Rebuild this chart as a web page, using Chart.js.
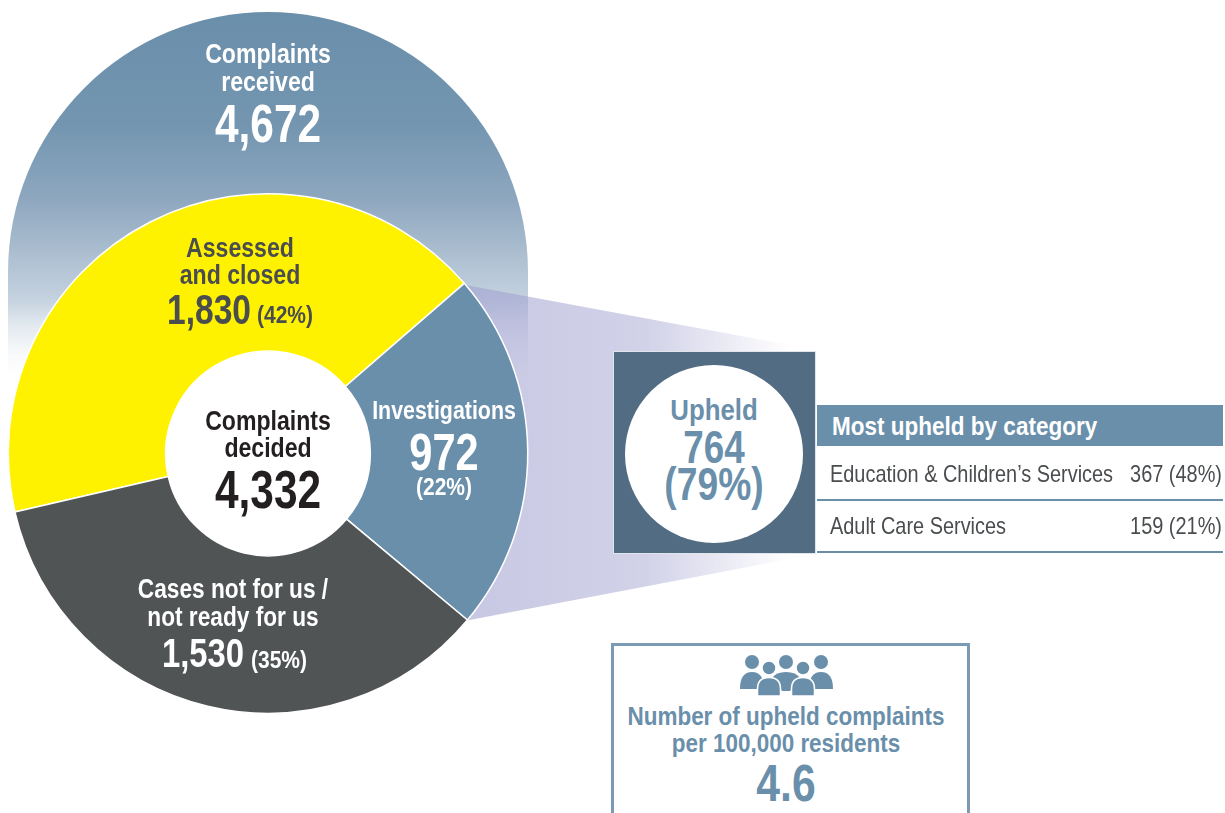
<!DOCTYPE html>
<html><head><meta charset="utf-8">
<script src="https://cdn.jsdelivr.net/npm/chart.js@4"></script>
<style>
html,body{margin:0;padding:0;background:#fff;width:1225px;height:813px;overflow:hidden}
#wrap{position:relative;width:1225px;height:813px;overflow:hidden}
canvas{position:absolute;left:0;top:0}
.t{position:absolute;white-space:nowrap;line-height:1;font-family:"Liberation Sans",Arial,sans-serif;font-weight:700}
.box{position:absolute;box-sizing:border-box}
</style></head><body>
<div id="wrap"><canvas id="c" width="1225" height="813"></canvas></div>
<script>
const categories = ["Assessed and closed", "Investigations", "Cases not for us / not ready for us"];
const decidedValues = [1830, 972, 1530];
const decidedShares = ["42%", "22%", "35%"];
const sliceColors = ["#fff200", "#6a8fab", "#505455"];
const received = 4672;
const decided = 4332;
const upheld = 764;
const upheldShare = "79%";
const upheldCategories = ["Education & Children\u2019s Services", "Adult Care Services"];
const upheldCategoryValues = [367, 159];
const upheldCategoryShares = ["48%", "21%"];
const perResidents = "4.6";
const fmt = n => n.toLocaleString("en-GB");

const backdrop = {
  id: "backdrop",
  beforeDatasetsDraw(chart) {
    const ctx = chart.ctx;
    const arc = chart.getDatasetMeta(0).data[0];
    const cx = arc.x, cy = arc.y, r = 260;
    ctx.save();
    // dome behind the doughnut
    const topY = 12, fadeY = 386;
    const g = ctx.createLinearGradient(0, topY, 0, fadeY);
    g.addColorStop(0, "#6a8fab");
    g.addColorStop(0.3, "#7395b0");
    g.addColorStop(0.5, "#8ea7bf");
    g.addColorStop(0.77, "#c5d2df");
    g.addColorStop(1, "rgba(255,255,255,0)");
    ctx.fillStyle = g;
    ctx.beginPath();
    ctx.moveTo(cx - r, fadeY);
    ctx.lineTo(cx - r, topY + r);
    ctx.arc(cx, topY + r, r, Math.PI, 0);
    ctx.lineTo(cx + r, fadeY);
    ctx.closePath();
    ctx.fill();
    // wedge towards the upheld box
    const w = ctx.createLinearGradient(470, 0, 790, 0);
    w.addColorStop(0, "rgba(160,160,208,0.58)");
    w.addColorStop(0.55, "rgba(160,160,208,0.48)");
    w.addColorStop(1, "rgba(160,160,208,0)");
    ctx.fillStyle = w;
    ctx.beginPath();
    ctx.moveTo(cx + 195, cy - 169);
    ctx.lineTo(795, 346);
    ctx.lineTo(795, 558);
    ctx.lineTo(cx + 199, cy + 167);
    ctx.closePath();
    ctx.fill();
    // the hole of the doughnut stays white
    ctx.fillStyle = "#fff";
    ctx.beginPath();
    ctx.arc(cx, cy, arc.innerRadius, 0, Math.PI * 2);
    ctx.fill();
    ctx.restore();
  }
};

new Chart(document.getElementById("c"), {
  type: "doughnut",
  data: { labels: categories, datasets: [{ data: decidedValues, backgroundColor: sliceColors, borderColor: "#ffffff", borderWidth: 1.5, borderAlign: "center" }] },
  options: {
    responsive: false, animation: false, rotation: -103, cutout: "39.4%",
    layout: { padding: { left: 7, right: 696, top: 193, bottom: 99 } },
    plugins: { legend: { display: false }, tooltip: { enabled: false } }
  },
  plugins: [backdrop]
});

const wrap = document.getElementById("wrap");
function box(x, y, w, h, css) {
  const d = document.createElement("div");
  d.className = "box";
  d.style.cssText = `left:${x}px;top:${y}px;width:${w}px;height:${h}px;${css}`;
  wrap.appendChild(d); return d;
}
function put(text, x, base, size, color, sx = 0.855, anchor = "c", weight = 700) {
  const d = document.createElement("div");
  d.className = "t"; d.textContent = text;
  const shift = anchor === "c" ? "-50%" : anchor === "r" ? "-100%" : "0";
  const origin = anchor === "c" ? "50%" : anchor === "r" ? "100%" : "0";
  d.style.cssText = `left:${x}px;top:${base - size * 0.8465}px;font-size:${size}px;color:${color};font-weight:${weight};transform-origin:${origin} 50%;transform:translateX(${shift}) scaleX(${sx})`;
  wrap.appendChild(d); return d;
}
const WHITE = "#ffffff", DARK = "#4a4d4f", INK = "#231f20", BLUE = "#6a8fab";
const NUM = 0.8;

put("Complaints", 268, 64, 27, WHITE);
put("received", 268, 92, 27, WHITE);
put(fmt(received), 268, 142, 53, WHITE, NUM);

put("Assessed", 240, 258, 27, DARK);
put("and closed", 240, 285, 27, DARK);
put(fmt(decidedValues[0]), 208.5, 325, 42, DARK, NUM);
put(`(${decidedShares[0]})`, 285, 323, 24, DARK, 0.875);

put("Complaints", 268, 431, 27, INK);
put("decided", 268, 458, 27, INK);
put(fmt(decided), 268, 508, 53, INK, NUM);

put(categories[1], 444, 419, 25, WHITE);
put(fmt(decidedValues[1]), 444, 470, 52, WHITE, NUM);
put(`(${decidedShares[1]})`, 444, 495, 24, WHITE, 0.875);

put("Cases not for us /", 233, 599, 27, WHITE, 0.84);
put("not ready for us", 233, 627, 27, WHITE, 0.84);
put(fmt(decidedValues[2]), 202.5, 668, 41, WHITE, NUM);
put(`(${decidedShares[2]})`, 279, 668, 24, WHITE, 0.875);

box(613, 351, 203, 203, "background:#526c83;border:1px solid #dfe5ea");
box(625, 365, 178, 178, "background:#fff;border-radius:50%");
put("Upheld", 714, 420, 30, BLUE, 0.86);
put(fmt(upheld), 714, 463, 46, BLUE, 0.8);
put(`(${upheldShare})`, 714, 500, 46, BLUE, 0.81);

box(817, 405, 406, 41, `background:${BLUE}`);
put("Most upheld by category", 832, 435, 26, WHITE, 0.866, "l");
put(upheldCategories[0], 830, 482, 24, DARK, 0.83, "l", 400);
put(`${upheldCategoryValues[0]} (${upheldCategoryShares[0]})`, 1222, 482, 24, DARK, 0.83, "r", 400);
box(817, 499, 406, 1.5, `background:${BLUE}`);
put(upheldCategories[1], 830, 534, 24, DARK, 0.83, "l", 400);
put(`${upheldCategoryValues[1]} (${upheldCategoryShares[1]})`, 1222, 534, 24, DARK, 0.83, "r", 400);
box(817, 551, 406, 1.5, `background:${BLUE}`);

box(611, 643, 359, 190, "border:3px solid #7b9ab3;background:#fff");
const icon = document.createElementNS("http://www.w3.org/2000/svg", "svg");
icon.setAttribute("width", 100); icon.setAttribute("height", 46);
icon.style.cssText = "position:absolute;left:738px;top:653px";
const backPerson = x => `<circle cx="${x}" cy="9" r="7"/><path d="M${x-12} 36 Q${x-12} 19 ${x} 19 Q${x+12} 19 ${x+12} 36 Z" />`;
const frontPerson = x => `<circle cx="${x}" cy="15" r="7"/><path d="M${x-11.5} 43 V36 Q${x-11.5} 24.5 ${x} 24.5 Q${x+11.5} 24.5 ${x+11.5} 36 V43 Z"/>`;
icon.innerHTML = `<g fill="#6a8fab">${backPerson(14)}${backPerson(83)}<circle cx="48" cy="9" r="7"/><path d="M34 25 Q38 19 48 19 Q58 19 62 25 L52 38 H44 Z"/></g>` +
  `<g fill="#6a8fab" stroke="#fff" stroke-width="1.5">${frontPerson(31)}${frontPerson(65)}</g>`;
wrap.appendChild(icon);
put("Number of upheld complaints", 786, 725, 26, BLUE, 0.864);
put("per 100,000 residents", 786, 752, 26, BLUE, 0.864);
put(perResidents, 786, 801, 52, BLUE, 0.82);
</script></body></html>
